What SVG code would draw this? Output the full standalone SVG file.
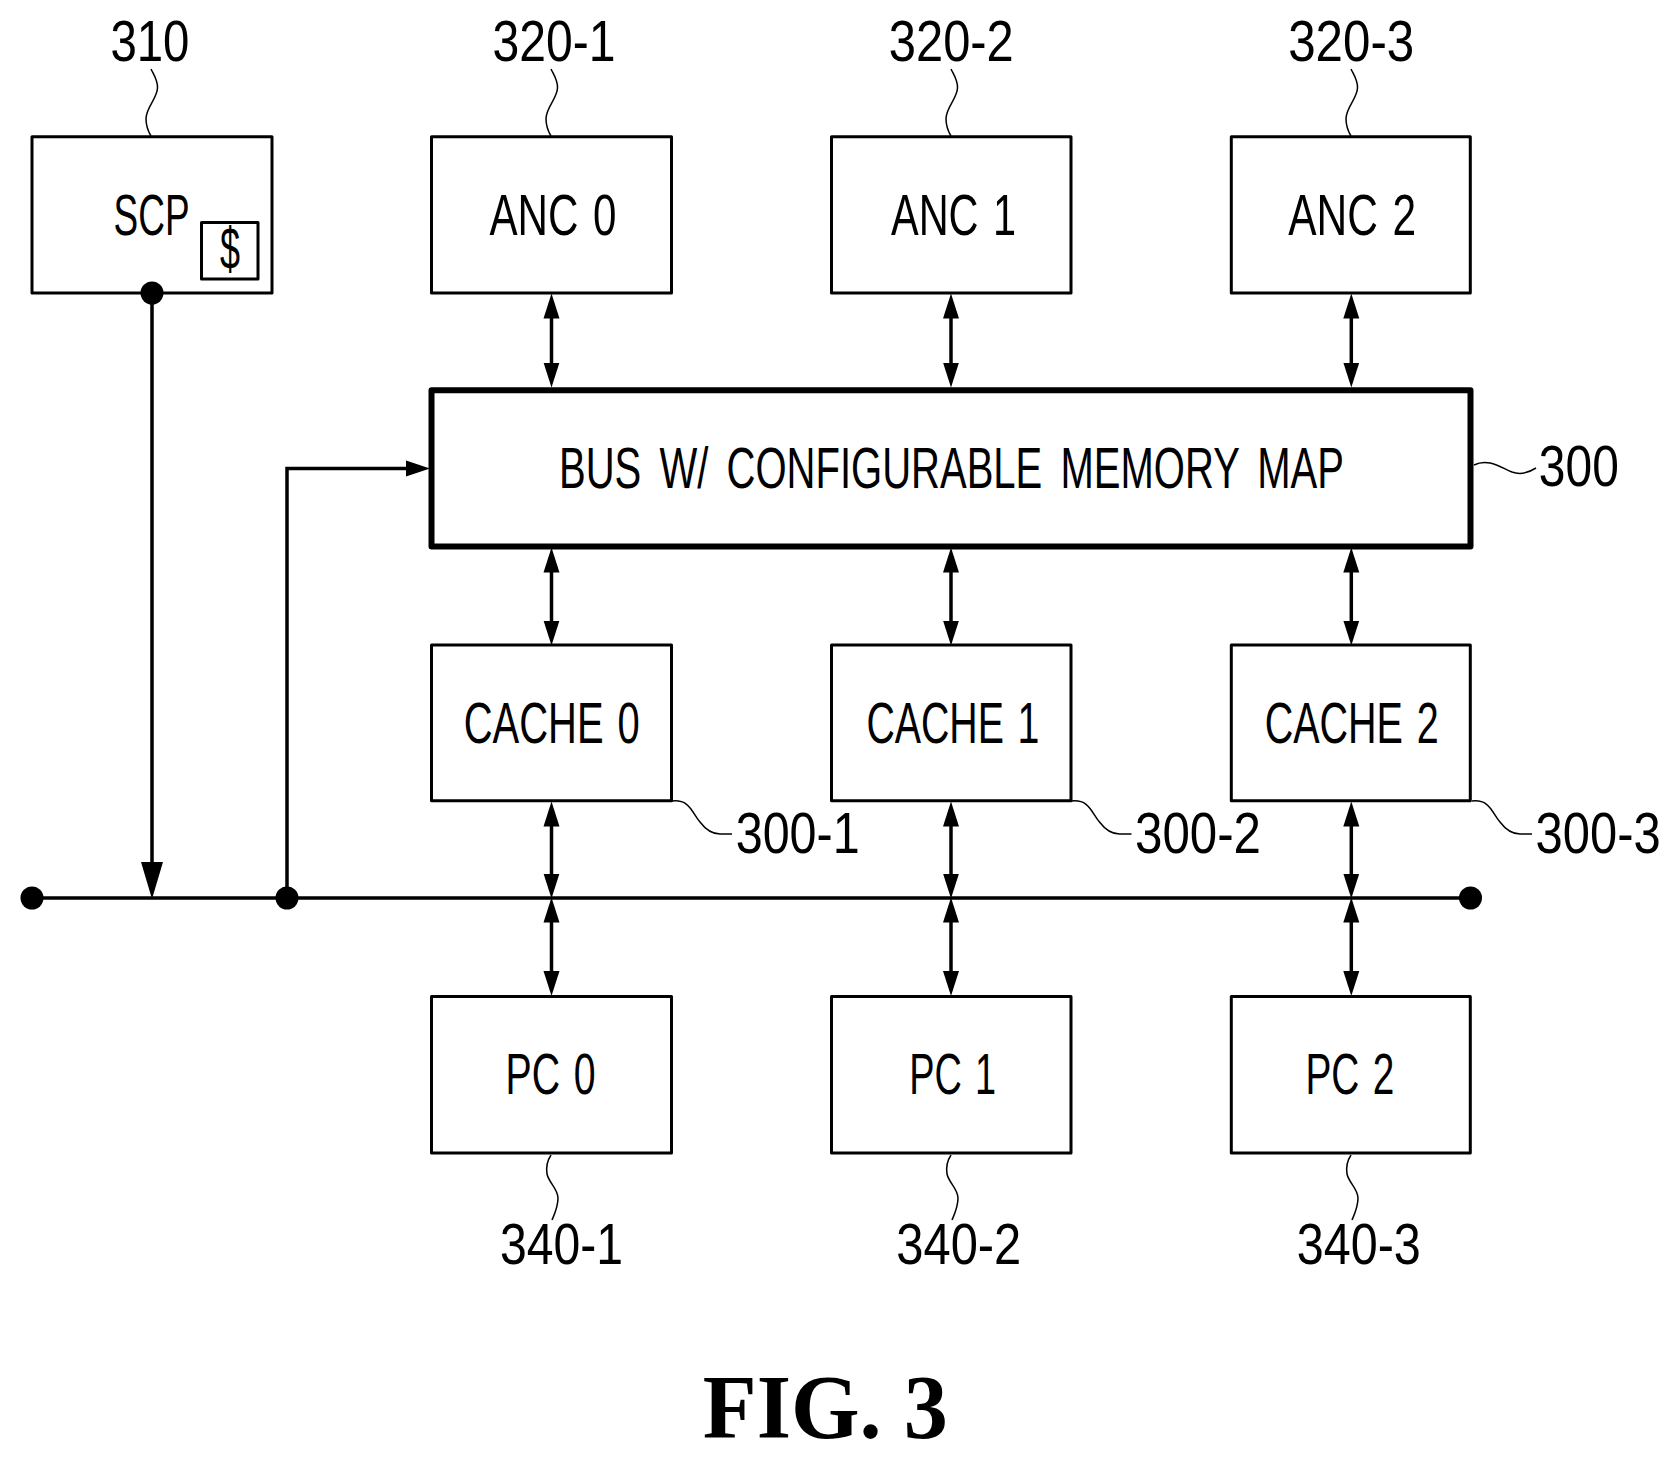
<svg xmlns="http://www.w3.org/2000/svg" width="1679" height="1458" viewBox="0 0 1679 1458">
<style>
text{font-family:"Liberation Sans Narrow","Liberation Sans",Arial,sans-serif;font-size:57px;fill:#000}
.nt{word-spacing:4px}
.fig{font-family:"Liberation Serif","Times New Roman",serif;font-weight:bold;font-size:90px}
.box{fill:#fff;stroke:#000;stroke-width:3;stroke-linejoin:round}
.bus{fill:#fff;stroke:#000;stroke-width:6;stroke-linejoin:round}
.w{fill:none;stroke:#000;stroke-width:3.500}
.arr{marker-start:url(#a);marker-end:url(#a)}
.lead{fill:none;stroke:#000;stroke-width:1.500}
.dot{fill:#000}
</style>
<defs>
<marker id="a" markerUnits="userSpaceOnUse" markerWidth="27" markerHeight="18" refX="15" refY="9" orient="auto-start-reverse"><path d="M0,1 L25,9 L0,17 Z" fill="#000"/></marker>
<marker id="b" markerUnits="userSpaceOnUse" markerWidth="38" markerHeight="22" refX="26" refY="11" orient="auto"><path d="M0,0 L37,11 L0,22 Z" fill="#000"/></marker>
<marker id="c" markerUnits="userSpaceOnUse" markerWidth="26" markerHeight="18" refX="14" refY="9" orient="auto"><path d="M0,1 L24,9 L0,17 Z" fill="#000"/></marker>
<path id="lu" d="M0,0 C4,8 7,12 6.500,19 C6,30 -5,38 -5,50 C-5,57 -3,62 0,67"/>
<path id="ld" d="M0,0 C-4,6 -5,12 -4,19 C-2,28 7,34 7,43 C7,52 4,58 1,65"/>
</defs>
<rect width="1679" height="1458" fill="#fff"/>
<g id="connectors">
<path class="w" d="M32,898 H1470.500"/>
<path class="w" d="M152,293 V888" marker-end="url(#b)"/>
<path class="w" d="M287,898 V468.500 H420" marker-end="url(#c)"/>
<g class="w">
<path class="arr" d="M551.500,303.500 V377.500"/><path class="arr" d="M951,303.500 V377.500"/><path class="arr" d="M1351.300,303.500 V377.500"/>
<path class="arr" d="M551.500,557.500 V635.500"/><path class="arr" d="M951,557.500 V635.500"/><path class="arr" d="M1351.300,557.500 V635.500"/>
<path class="arr" d="M551.500,811.500 V888.500"/><path class="arr" d="M951,811.500 V888.500"/><path class="arr" d="M1351.300,811.500 V888.500"/>
<path class="arr" d="M551.500,907.500 V986"/><path class="arr" d="M951,907.500 V986"/><path class="arr" d="M1351.300,907.500 V986"/>
</g>
<g class="dot">
<circle cx="32" cy="898" r="11.500"/><circle cx="287" cy="898" r="11.500"/><circle cx="1470.500" cy="898" r="11.500"/>
</g>
</g>
<g id="leaders" class="lead">
<use href="#lu" x="151" y="69"/><use href="#lu" x="551" y="69"/><use href="#lu" x="951" y="69"/><use href="#lu" x="1351" y="69"/>
<use href="#ld" x="551" y="1155"/><use href="#ld" x="951" y="1155"/><use href="#ld" x="1351" y="1155"/>
<path d="M1474,465 C1488,458 1500,467 1512,472 C1520,475 1528,473 1536,468"/>
<path d="M672,801 C690,799 692,813 700,822 C706,830 712,834 720,834 H732"/>
<path d="M1071.500,801 C1089.500,799 1091.500,813 1099.500,822 C1105.500,830 1111.500,834 1119.500,834 H1131.500"/>
<path d="M1472,801 C1490,799 1492,813 1500,822 C1506,830 1512,834 1520,834 H1532"/>
</g>
<g id="n310"><rect class="box" x="32" y="136.700" width="240" height="156.300"/><text x="113.600" y="235" textLength="76" lengthAdjust="spacingAndGlyphs">SCP</text><rect class="box" x="201.500" y="222.500" width="56.500" height="56.500"/><text x="220" y="269" textLength="20" lengthAdjust="spacingAndGlyphs" style="font-size:60px">$</text></g>
<circle id="scp-port" class="dot" cx="152" cy="293" r="11.500"/>
<g id="n320-1"><rect class="box" x="431.500" y="136.700" width="240" height="156.300"/><text class="nt" x="489.400" y="235" textLength="127" lengthAdjust="spacingAndGlyphs">ANC 0</text></g>
<g id="n320-2"><rect class="box" x="831.500" y="136.700" width="239.500" height="156.300"/><text class="nt" x="891" y="235" textLength="125" lengthAdjust="spacingAndGlyphs">ANC 1</text></g>
<g id="n320-3"><rect class="box" x="1231.300" y="136.700" width="239" height="156.300"/><text class="nt" x="1288.200" y="235" textLength="128" lengthAdjust="spacingAndGlyphs">ANC 2</text></g>
<g id="n300"><rect class="bus" x="431.500" y="390.300" width="1039" height="156.200"/><text x="559" y="488" textLength="785" lengthAdjust="spacingAndGlyphs" style="word-spacing:10px">BUS W/ CONFIGURABLE MEMORY MAP</text></g>
<g id="n300-1"><rect class="box" x="431.500" y="645" width="240" height="155.800"/><text class="nt" x="463.700" y="743" textLength="176" lengthAdjust="spacingAndGlyphs">CACHE 0</text></g>
<g id="n300-2"><rect class="box" x="831.500" y="645" width="239.500" height="155.800"/><text class="nt" x="866.400" y="743" textLength="173" lengthAdjust="spacingAndGlyphs">CACHE 1</text></g>
<g id="n300-3"><rect class="box" x="1231.300" y="645" width="239" height="155.800"/><text class="nt" x="1264.700" y="743" textLength="174" lengthAdjust="spacingAndGlyphs">CACHE 2</text></g>
<g id="n340-1"><rect class="box" x="431.500" y="996.600" width="240" height="156.400"/><text class="nt" x="505.500" y="1094" textLength="90" lengthAdjust="spacingAndGlyphs">PC 0</text></g>
<g id="n340-2"><rect class="box" x="831.500" y="996.600" width="239.500" height="156.400"/><text class="nt" x="909.200" y="1094" textLength="87" lengthAdjust="spacingAndGlyphs">PC 1</text></g>
<g id="n340-3"><rect class="box" x="1231.300" y="996.600" width="239" height="156.400"/><text class="nt" x="1305.400" y="1094" textLength="89" lengthAdjust="spacingAndGlyphs">PC 2</text></g>
<g id="labels">
<text x="110.400" y="61" textLength="79" lengthAdjust="spacingAndGlyphs">310</text>
<text x="492.600" y="61" textLength="123" lengthAdjust="spacingAndGlyphs">320-1</text>
<text x="888.800" y="61" textLength="125" lengthAdjust="spacingAndGlyphs">320-2</text>
<text x="1288.200" y="61" textLength="126" lengthAdjust="spacingAndGlyphs">320-3</text>
<text x="1538.800" y="485.500" textLength="80" lengthAdjust="spacingAndGlyphs">300</text>
<text x="735.700" y="853" textLength="124" lengthAdjust="spacingAndGlyphs">300-1</text>
<text x="1135" y="853" textLength="126" lengthAdjust="spacingAndGlyphs">300-2</text>
<text x="1535.600" y="853" textLength="125" lengthAdjust="spacingAndGlyphs">300-3</text>
<text x="500" y="1264" textLength="123" lengthAdjust="spacingAndGlyphs">340-1</text>
<text x="896.300" y="1264" textLength="125" lengthAdjust="spacingAndGlyphs">340-2</text>
<text x="1296.800" y="1264" textLength="124" lengthAdjust="spacingAndGlyphs">340-3</text>
<text class="fig" x="702.800" y="1438" textLength="245" lengthAdjust="spacingAndGlyphs">FIG. 3</text>
</g>
</svg>
